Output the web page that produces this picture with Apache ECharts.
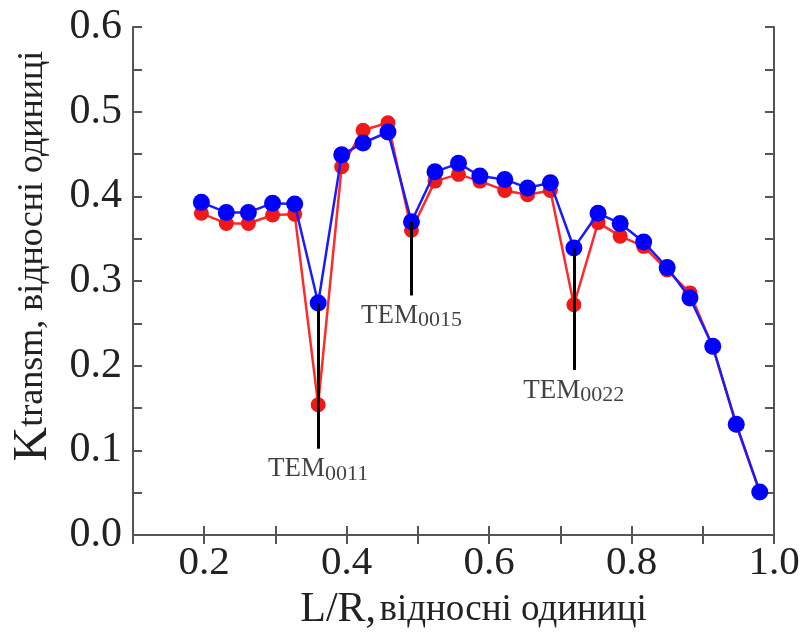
<!DOCTYPE html>
<html>
<head>
<meta charset="utf-8">
<script src="https://cdn.jsdelivr.net/npm/echarts@6/dist/echarts.min.js"></script>
<style>
  html, body { margin: 0; padding: 0; background: #fff; }
  #chart { width: 805px; height: 636px; }
</style>
</head>
<body>
<div id="chart"></div>
<script>
// L/R, відносні одиниці
const xValues = [0.196, 0.231, 0.262, 0.296, 0.327, 0.360, 0.393, 0.423, 0.458, 0.491, 0.524, 0.557, 0.587,
                 0.622, 0.654, 0.686, 0.719, 0.753, 0.784, 0.817, 0.850, 0.882, 0.914, 0.947, 0.980];
// K transm, червона крива
const redValues = [0.380, 0.368, 0.368, 0.378, 0.379, 0.154, 0.435, 0.478, 0.487, 0.360, 0.418, 0.426, 0.418,
                   0.407, 0.402, 0.407, 0.272, 0.369, 0.353, 0.341, 0.313, 0.286, 0.222, 0.130, 0.051];
// K transm, синя крива
const blueValues = [0.393, 0.381, 0.381, 0.392, 0.391, 0.274, 0.449, 0.463, 0.476, 0.370, 0.429, 0.439, 0.424,
                    0.420, 0.410, 0.416, 0.339, 0.380, 0.368, 0.346, 0.316, 0.280, 0.223, 0.131, 0.051];

// підписи мод
const annX = [0.360, 0.491, 0.719];
const annTop = [0.274, 0.370, 0.339];
const annBottom = [0.102, 0.283, 0.195];
const annModes = ['0011', '0015', '0022'];

const FONT = 'Liberation Serif';

function pairs(xs, ys) {
    return xs.map((x, i) => [x, ys[i]]);
}

const axisLine = { show: true, lineStyle: { color: '#555', width: 2 } };
const axisTick = { show: true, inside: true, length: 9, lineStyle: { color: '#555', width: 2 } };

let chart = echarts.init(document.getElementById('chart'));

let option = {
    backgroundColor: '#fff',
    animation: false,
    grid: { left: 133, right: 31, top: 27, bottom: 93 },
    xAxis: [
        {
            type: 'value', min: 0.1, max: 1.0, interval: 0.1, position: 'bottom',
            axisLine: axisLine, axisTick: axisTick, splitLine: { show: false },
            axisLabel: {
                margin: 8, fontSize: 41, fontFamily: FONT, color: '#222',
                formatter: v => (Math.round(v * 10) % 2 === 0 ? v.toFixed(1) : '')
            },
            name: '{a|L/R,} {b|відносні одиниці}',
            nameLocation: 'middle', nameGap: 50,
            nameTextStyle: {
                padding: [0, 0, 0, 40],
                rich: {
                    a: { fontFamily: FONT, fontSize: 42, color: '#222' },
                    b: { fontFamily: FONT, fontSize: 37, color: '#222' }
                }
            }
        },
        {
            type: 'value', min: 0.1, max: 1.0, interval: 0.1, position: 'top',
            axisLine: axisLine, axisTick: axisTick, splitLine: { show: false },
            axisLabel: { show: false }
        }
    ],
    yAxis: [
        {
            type: 'value', min: 0, max: 0.6, interval: 0.05, position: 'left',
            axisLine: axisLine, axisTick: axisTick, splitLine: { show: false },
            axisLabel: {
                margin: 11, fontSize: 42, fontFamily: FONT, color: '#222',
                formatter: v => (Math.round(v * 100) % 10 === 0 ? v.toFixed(1) : '')
            },
            name: '{a|K}{b|transm, відносні одиниці}',
            nameLocation: 'middle', nameRotate: 90, nameGap: 76,
            nameTextStyle: {
                padding: [0, 0, 0, 50],
                rich: {
                    a: { fontFamily: FONT, fontSize: 48, color: '#222' },
                    b: { fontFamily: FONT, fontSize: 36, color: '#222' }
                }
            }
        },
        {
            type: 'value', min: 0, max: 0.6, interval: 0.05, position: 'right',
            axisLine: axisLine, axisTick: axisTick, splitLine: { show: false },
            axisLabel: { show: false }
        }
    ],
    series: [
        {
            name: 'red', type: 'line', z: 2,
            data: pairs(xValues, redValues),
            symbol: 'circle', symbolSize: 15,
            lineStyle: { color: '#ff2a2a', width: 2.5 },
            itemStyle: { color: '#f01818' }
        },
        {
            name: 'annotations', type: 'scatter', z: 3,
            data: pairs(annX, annBottom),
            symbolSize: 0,
            label: {
                show: true, position: 'bottom', distance: 7,
                formatter: p => '{t|TEM}{n|' + annModes[p.dataIndex] + '}',
                rich: {
                    t: { fontFamily: FONT, fontSize: 27, color: '#111', verticalAlign: 'bottom' },
                    n: { fontFamily: FONT, fontSize: 22, color: '#111', verticalAlign: 'bottom', padding: [0, 0, -2, 0] }
                }
            },
            markLine: {
                silent: true, symbol: ['none', 'none'],
                lineStyle: { color: '#000', width: 3, type: 'solid' },
                label: { show: false },
                data: annX.map((x, i) => [{ coord: [x, annTop[i]] }, { coord: [x, annBottom[i]] }])
            }
        },
        {
            name: 'blue', type: 'line', z: 4,
            data: pairs(xValues, blueValues),
            symbol: 'circle', symbolSize: 17,
            lineStyle: { color: '#1a1aff', width: 2.5 },
            itemStyle: { color: '#0000ff' }
        }
    ]
};
chart.setOption(option);
</script>
</body>
</html>
